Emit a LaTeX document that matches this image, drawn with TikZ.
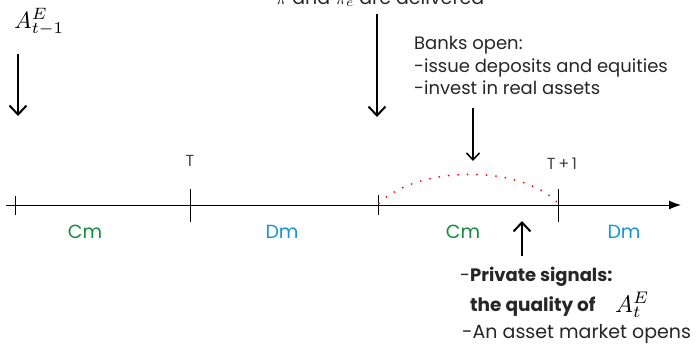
\documentclass[tikz,border=0pt]{standalone}
\usepackage{fontspec}
\setmainfont{Poppins}
\usepackage{amsmath}
\usepackage{graphicx}
\usetikzlibrary{arrows.meta}
\definecolor{cmgreen}{RGB}{20,140,60}
\definecolor{dmblue}{RGB}{20,150,210}
\tikzset{
  evarrow/.style={line width=2pt,-{Straight Barb[length=9pt,width=17pt,line width=2pt]}},
  tick/.style={line width=1pt},
  lbl/.style={inner sep=0pt,font=\fontsize{19}{22}\selectfont},
  smalllbl/.style={inner sep=0pt,font=\fontsize{16}{18}\selectfont,text=black!75},
  txt/.style={inner sep=0pt,align=left,font=\fontsize{18}{22.5}\selectfont,text=black!85},
  mathlbl/.style={inner sep=0pt,font=\fontsize{10}{12}\selectfont},
}
\begin{document}
\begin{tikzpicture}[x=1pt,y=-1pt]
\useasboundingbox (0,0) rectangle (697,349);
% timeline
\coordinate (tl0) at (6,205);
\coordinate (tl1) at (681,205);
\draw[line width=1pt,-{Latex[length=12pt,width=9pt]}] (tl0) -- (tl1);
% ticks
\coordinate (a0) at (15,196); \coordinate (a1) at (15,215);
\coordinate (b0) at (190,189); \coordinate (b1) at (190,222);
\coordinate (c0) at (378,195); \coordinate (c1) at (378,215);
\coordinate (d0) at (558,189); \coordinate (d1) at (558,222);
\draw[tick] (a0) -- (a1);
\draw[tick] (b0) -- (b1);
\draw[tick] (c0) -- (c1);
\draw[tick] (d0) -- (d1);
% tick labels
\node[smalllbl] (T) at (190,161) {T};
\node[smalllbl] (T1) at (562,164) {T\,+\,1};
% period labels
\node[lbl,text=cmgreen] (cm1) at (85,232) {Cm};
\node[lbl,text=dmblue] (dm1) at (282,232) {Dm};
\node[lbl,text=cmgreen] (cm2) at (463,232) {Cm};
\node[lbl,text=dmblue] (dm2) at (624,232) {Dm};
% red dotted arc
\coordinate (r0) at (379,203);
\coordinate (r1) at (557,202);
\draw[red,line width=2pt,dash pattern=on 0pt off 9.5pt,line cap=round] (r0) .. controls (420,165) and (520,165) .. (r1);
% top-left
\node[mathlbl,anchor=base west] (AE) at (14,28) {\scalebox{2.35}{$A^E_{t-1}$}};
\coordinate (e1s) at (18,54); \coordinate (e1e) at (18,116);
\draw[evarrow] (e1s) -- (e1e);
% top middle
\node[mathlbl,anchor=base,text=black!85] (pi) at (380,4) {\scalebox{1.9}{$\pi$ and $\pi_e$ are delivered}};
\coordinate (e2s) at (377,14); \coordinate (e2e) at (377,117);
\draw[evarrow] (e2s) -- (e2e);
% banks
\node[txt,anchor=north west] (banks) at (414,36) {Banks open:\\-issue deposits and equities\\-invest in real assets};
\coordinate (e3s) at (473,108); \coordinate (e3e) at (473,161);
\draw[line width=1.5pt,-{Straight Barb[length=7pt,width=13pt,line width=1.5pt]}] (e3s) -- (e3e);
% bottom
\coordinate (e4s) at (522,256); \coordinate (e4e) at (522,221);
\draw[evarrow] (e4s) -- (e4e);
\node[txt,anchor=base west] (ps) at (460,281) {-\textbf{Private signals:}};
\node[txt,anchor=base west,font=\fontsize{18.5}{22}\selectfont] (qu) at (470,311) {\textbf{the quality of}};
\node[mathlbl,anchor=base west] (qa) at (615,312) {\scalebox{2.4}{$A^E_t$}};
\node[txt,anchor=base west,font=\fontsize{19}{22}\selectfont] (am) at (462,338) {-An asset market opens};
\end{tikzpicture}
\end{document}
